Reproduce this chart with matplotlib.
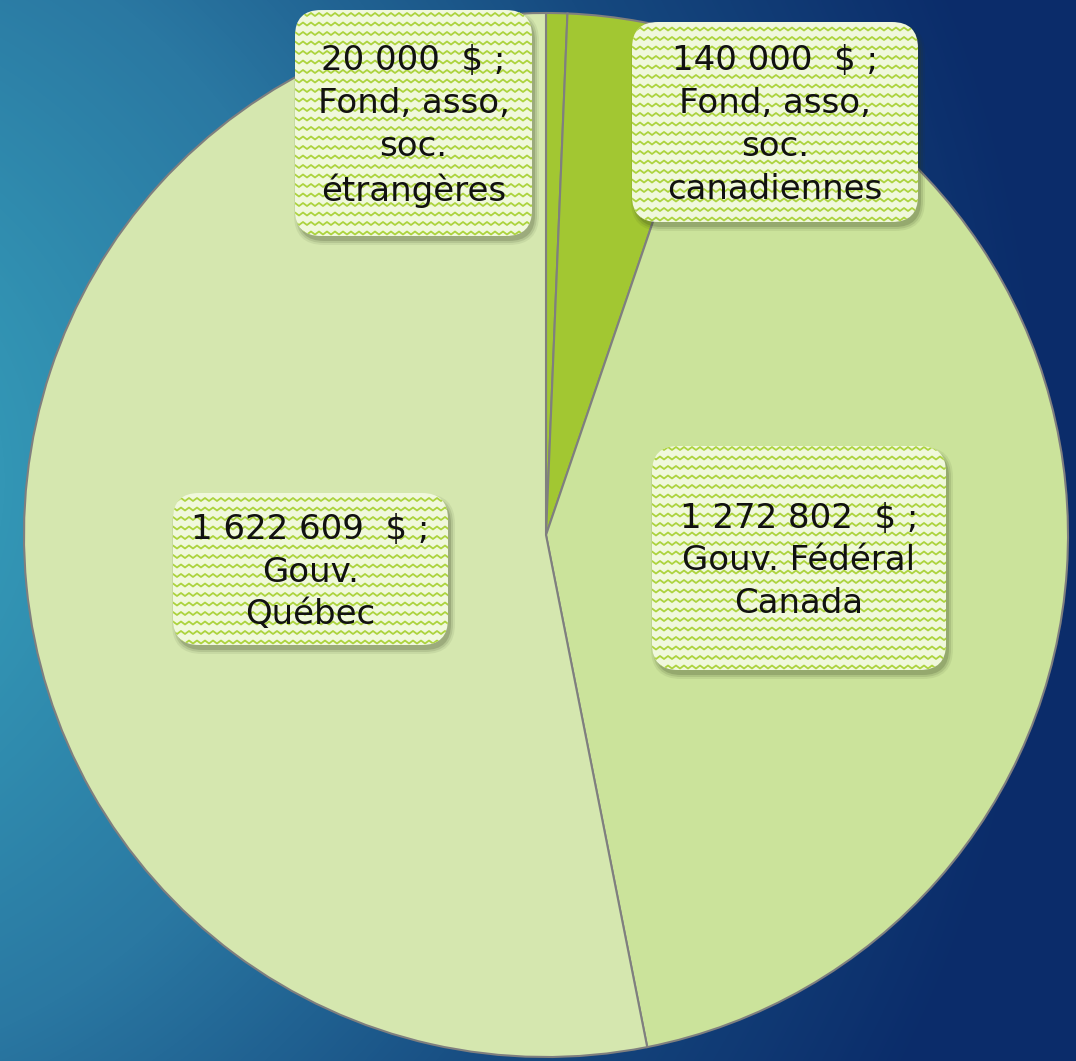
import numpy as np
import matplotlib.pyplot as plt
from matplotlib.patches import FancyBboxPatch
from matplotlib.colors import LinearSegmentedColormap

# Données
sources = ["Fond, asso,\nsoc.\nétrangères", "Fond, asso,\nsoc.\ncanadiennes",
           "Gouv. Fédéral\nCanada", "Gouv.\nQuébec"]
montants = [20000, 140000, 1272802, 1622609]
montants_txt = ["20 000", "140 000", "1 272 802", "1 622 609"]
couleurs = ["#a2c732", "#a2c732", "#cbe39b", "#d5e7af"]

W, H = 1076, 1061

# boîtes des étiquettes (x0, y0, x1, y1) en pixels image
boites = [(295, 10, 532, 236), (632, 22, 918, 222),
          (652, 446, 946, 670), (173, 493, 448, 645)]

fig = plt.figure(figsize=(W / 100, H / 100), dpi=100)
ax = fig.add_axes([0, 0, 1, 1])

# Fond en dégradé
yy, xx = np.mgrid[0:H, 0:W]
d = np.sqrt((xx + 250.0) ** 2 + ((yy - 480.0) * 1.0) ** 2)
t = np.clip((d - 250) / 1050.0, 0, 1)
cmap_fond = LinearSegmentedColormap.from_list("fond", ["#3396b5", "#2a78a2", "#164a80", "#0b2c6a"])
ax.imshow(cmap_fond(t), extent=(0, W, 0, H), origin="upper", zorder=0, aspect="auto")

# Camembert
ax.pie(montants, colors=couleurs, startangle=90, counterclock=False,
       center=(546, H - 535), radius=522,
       wedgeprops=dict(edgecolor="#7f7f7f", linewidth=1.5))

# Étiquettes
for (x0, y0, x1, y1), src, m in zip(boites, sources, montants_txt):
    bx, by = x0, H - y1
    bw, bh = x1 - x0, y1 - y0
    r = 26
    for k, a in [(9, 0.08), (7, 0.12), (5, 0.18)]:
        ombre = FancyBboxPatch((bx + r + 3, by + r - 5), bw - 2 * r, bh - 2 * r,
                               boxstyle=f"round,pad={r + k - 5},rounding_size={r + k - 5}",
                               facecolor="#2f3a1a", edgecolor="none", alpha=a, zorder=3)
        ax.add_patch(ombre)
    boite = FancyBboxPatch((bx + r, by + r), bw - 2 * r, bh - 2 * r,
                           boxstyle=f"round,pad={r},rounding_size={r}",
                           facecolor="#f0f8dc", edgecolor="none", zorder=4)
    ax.add_patch(boite)
    # motif en zigzag
    xs = np.arange(bx - 4, bx + bw + 8, 4.0)
    for yrow in np.arange(by + 3, by + bh + 6, 9.5):
        ys = yrow + np.where(np.arange(len(xs)) % 2 == 0, -1.5, 1.5)
        ln, = ax.plot(xs, ys, color="#acd33e", linewidth=1.3, zorder=5)
        ln.set_clip_path(boite)
    ax.text(bx + bw / 2, by + bh / 2 - 3, f"{m}  $ ;\n{src}", ha="center", va="center",
            fontsize=24.5, family="DejaVu Sans", color="#111111", linespacing=1.38, zorder=6)

ax.set_xlim(0, W)
ax.set_ylim(0, H)
ax.axis("off")

fig.savefig("out.png", dpi=100)
